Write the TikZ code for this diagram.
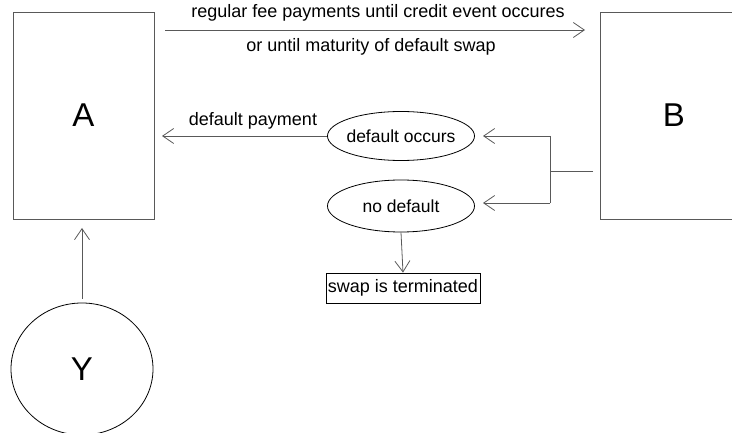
\documentclass[tikz,border=0pt]{standalone}
\usepackage{fontspec}
\setmainfont{Liberation Sans}
\usetikzlibrary{arrows.meta,shapes.geometric}
\begin{document}
\begin{tikzpicture}[x=1pt,y=-1pt,
  line width=0.8pt,
  bigbox/.style={draw=black!65,rectangle,inner sep=0pt,font=\fontsize{33}{38}\selectfont},
  oval/.style={draw=black,ellipse,inner xsep=-8pt,inner ysep=0pt,font=\fontsize{17.5}{21}\selectfont},
  lbl/.style={font=\fontsize{18}{21}\selectfont,inner sep=0pt},
  arr/.style={draw=black!65,-{Straight Barb[length=11pt,width=15pt,line width=0.8pt]}}]
\useasboundingbox (0,0) rectangle (732,433);
\node[bigbox,minimum width=141pt,minimum height=207pt] (A) at (83.5,115.5) {A};
\node[bigbox,minimum width=148pt,minimum height=207pt] (B) at (674,115.5) {B};
\node[draw=black,ellipse,inner sep=0pt,minimum width=142pt,minimum height=132pt,font=\fontsize{33}{38}\selectfont] (Y) at (82,369) {Y};
\node[oval,minimum width=147pt,minimum height=49pt] (occ) at (401,136) {default occurs};
\node[oval,minimum width=147pt,minimum height=52pt] (nod) at (401,206) {no default};
\node[draw=black,rectangle,minimum width=154pt,minimum height=30pt,font=\fontsize{18}{21}\selectfont,inner sep=0pt] (term) at (403,288) {swap is terminated};
\coordinate (t1) at (165,30);
\coordinate (t2) at (585,30);
\draw[arr] (t1) -- (t2);
\node[lbl] (txt1) at (378,13) {regular fee payments until credit event occures};
\node[lbl] (txt2) at (371,47) {or until maturity of default swap};
\coordinate (p0) at (162,136);
\draw[arr] (occ.west) -- (p0);
\node[lbl] (txt3) at (253,121) {default payment};
\coordinate (bs) at (593,171);
\coordinate (bj) at (550,171);
\coordinate (bt) at (550,136);
\coordinate (bb) at (550,203);
\coordinate (o1) at (483,136);
\coordinate (o2) at (483,203);
\draw[draw=black!65] (bs) -- (bj);
\draw[draw=black!65] (bt) -- (bb);
\draw[arr] (bt) -- (o1);
\draw[arr] (bb) -- (o2);
\draw[arr] (nod.south) -- (term.north);
\coordinate (ys) at (82,299);
\coordinate (ya) at (82,228);
\draw[arr] (ys) -- (ya);
\end{tikzpicture}
\end{document}
